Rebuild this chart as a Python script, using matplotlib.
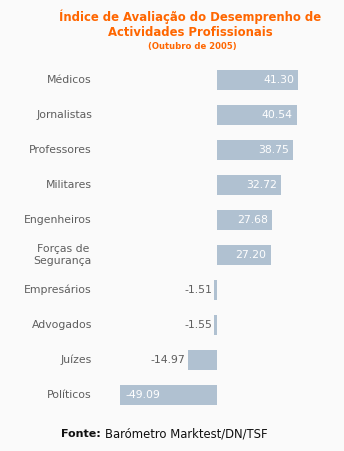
import matplotlib.pyplot as plt
from matplotlib.transforms import blended_transform_factory

categorias = ['Médicos', 'Jornalistas', 'Professores', 'Militares', 'Engenheiros',
              'Forças de\nSegurança', 'Empresários', 'Advogados', 'Juízes', 'Políticos']
valores = [41.30, 40.54, 38.75, 32.72, 27.68, 27.20, -1.51, -1.55, -14.97, -49.09]

fundo = '#fafafa'
cor_barra = '#b0c1d1'
laranja = '#ff6600'
cinza = '#5e5e5e'

W, H = 344, 451
fig = plt.figure(figsize=(W / 100, H / 100), dpi=100, facecolor=fundo)
ax = fig.add_axes([0, 0, 1, 1], facecolor=fundo)

# escala em pixeis: zero em x=217, ~1.97 px por ponto; barras a cada 35 px
zero_px, px_un = 217, 1.97
ax.set_xlim(-zero_px / px_un, (W - zero_px) / px_un)
ax.set_ylim((H - 80) / 35, -80 / 35)
ax.axis('off')

pos = list(range(len(categorias)))
ax.barh(pos, valores, height=20 / 35, color=cor_barra, linewidth=0)

fs = 7.8
trans = blended_transform_factory(ax.transAxes, ax.transData)
for i, (cat, v) in enumerate(zip(categorias, valores)):
    ax.text(92 / W, i, cat, transform=trans, ha='right', va='center',
            multialignment='center', fontsize=fs, color=cinza, linespacing=1.2)
    txt = f'{v:.2f}'
    if v > 0:
        ax.text(v - 2.0, i, txt, ha='right', va='center', fontsize=fs, color='white')
    elif v < -30:
        ax.text(v + 2.5, i, txt, ha='left', va='center', fontsize=fs, color='white')
    else:
        ax.text(v - 1.0, i, txt, ha='right', va='center', fontsize=fs, color=cinza)

fig.text(190 / W, 1 - 17 / H, 'Índice de Avaliação do Desemprenho de', ha='center', va='center',
         fontsize=8.4, color=laranja, fontweight='bold')
fig.text(190 / W, 1 - 32 / H, 'Actividades Profissionais', ha='center', va='center',
         fontsize=8.4, color=laranja, fontweight='bold')
fig.text(192 / W, 1 - 46 / H, '(Outubro de 2005)', ha='center', va='center',
         fontsize=6.1, color=laranja, fontweight='bold')

fig.text(101 / W, 1 - 434 / H, 'Fonte:', ha='right', va='center',
         fontsize=8.0, color='#111111', fontweight='bold')
fig.text(105 / W, 1 - 434 / H, 'Barómetro Marktest/DN/TSF', ha='left', va='center',
         fontsize=8.4, color='#111111')

fig.savefig('out.png', dpi=100, facecolor=fundo)
